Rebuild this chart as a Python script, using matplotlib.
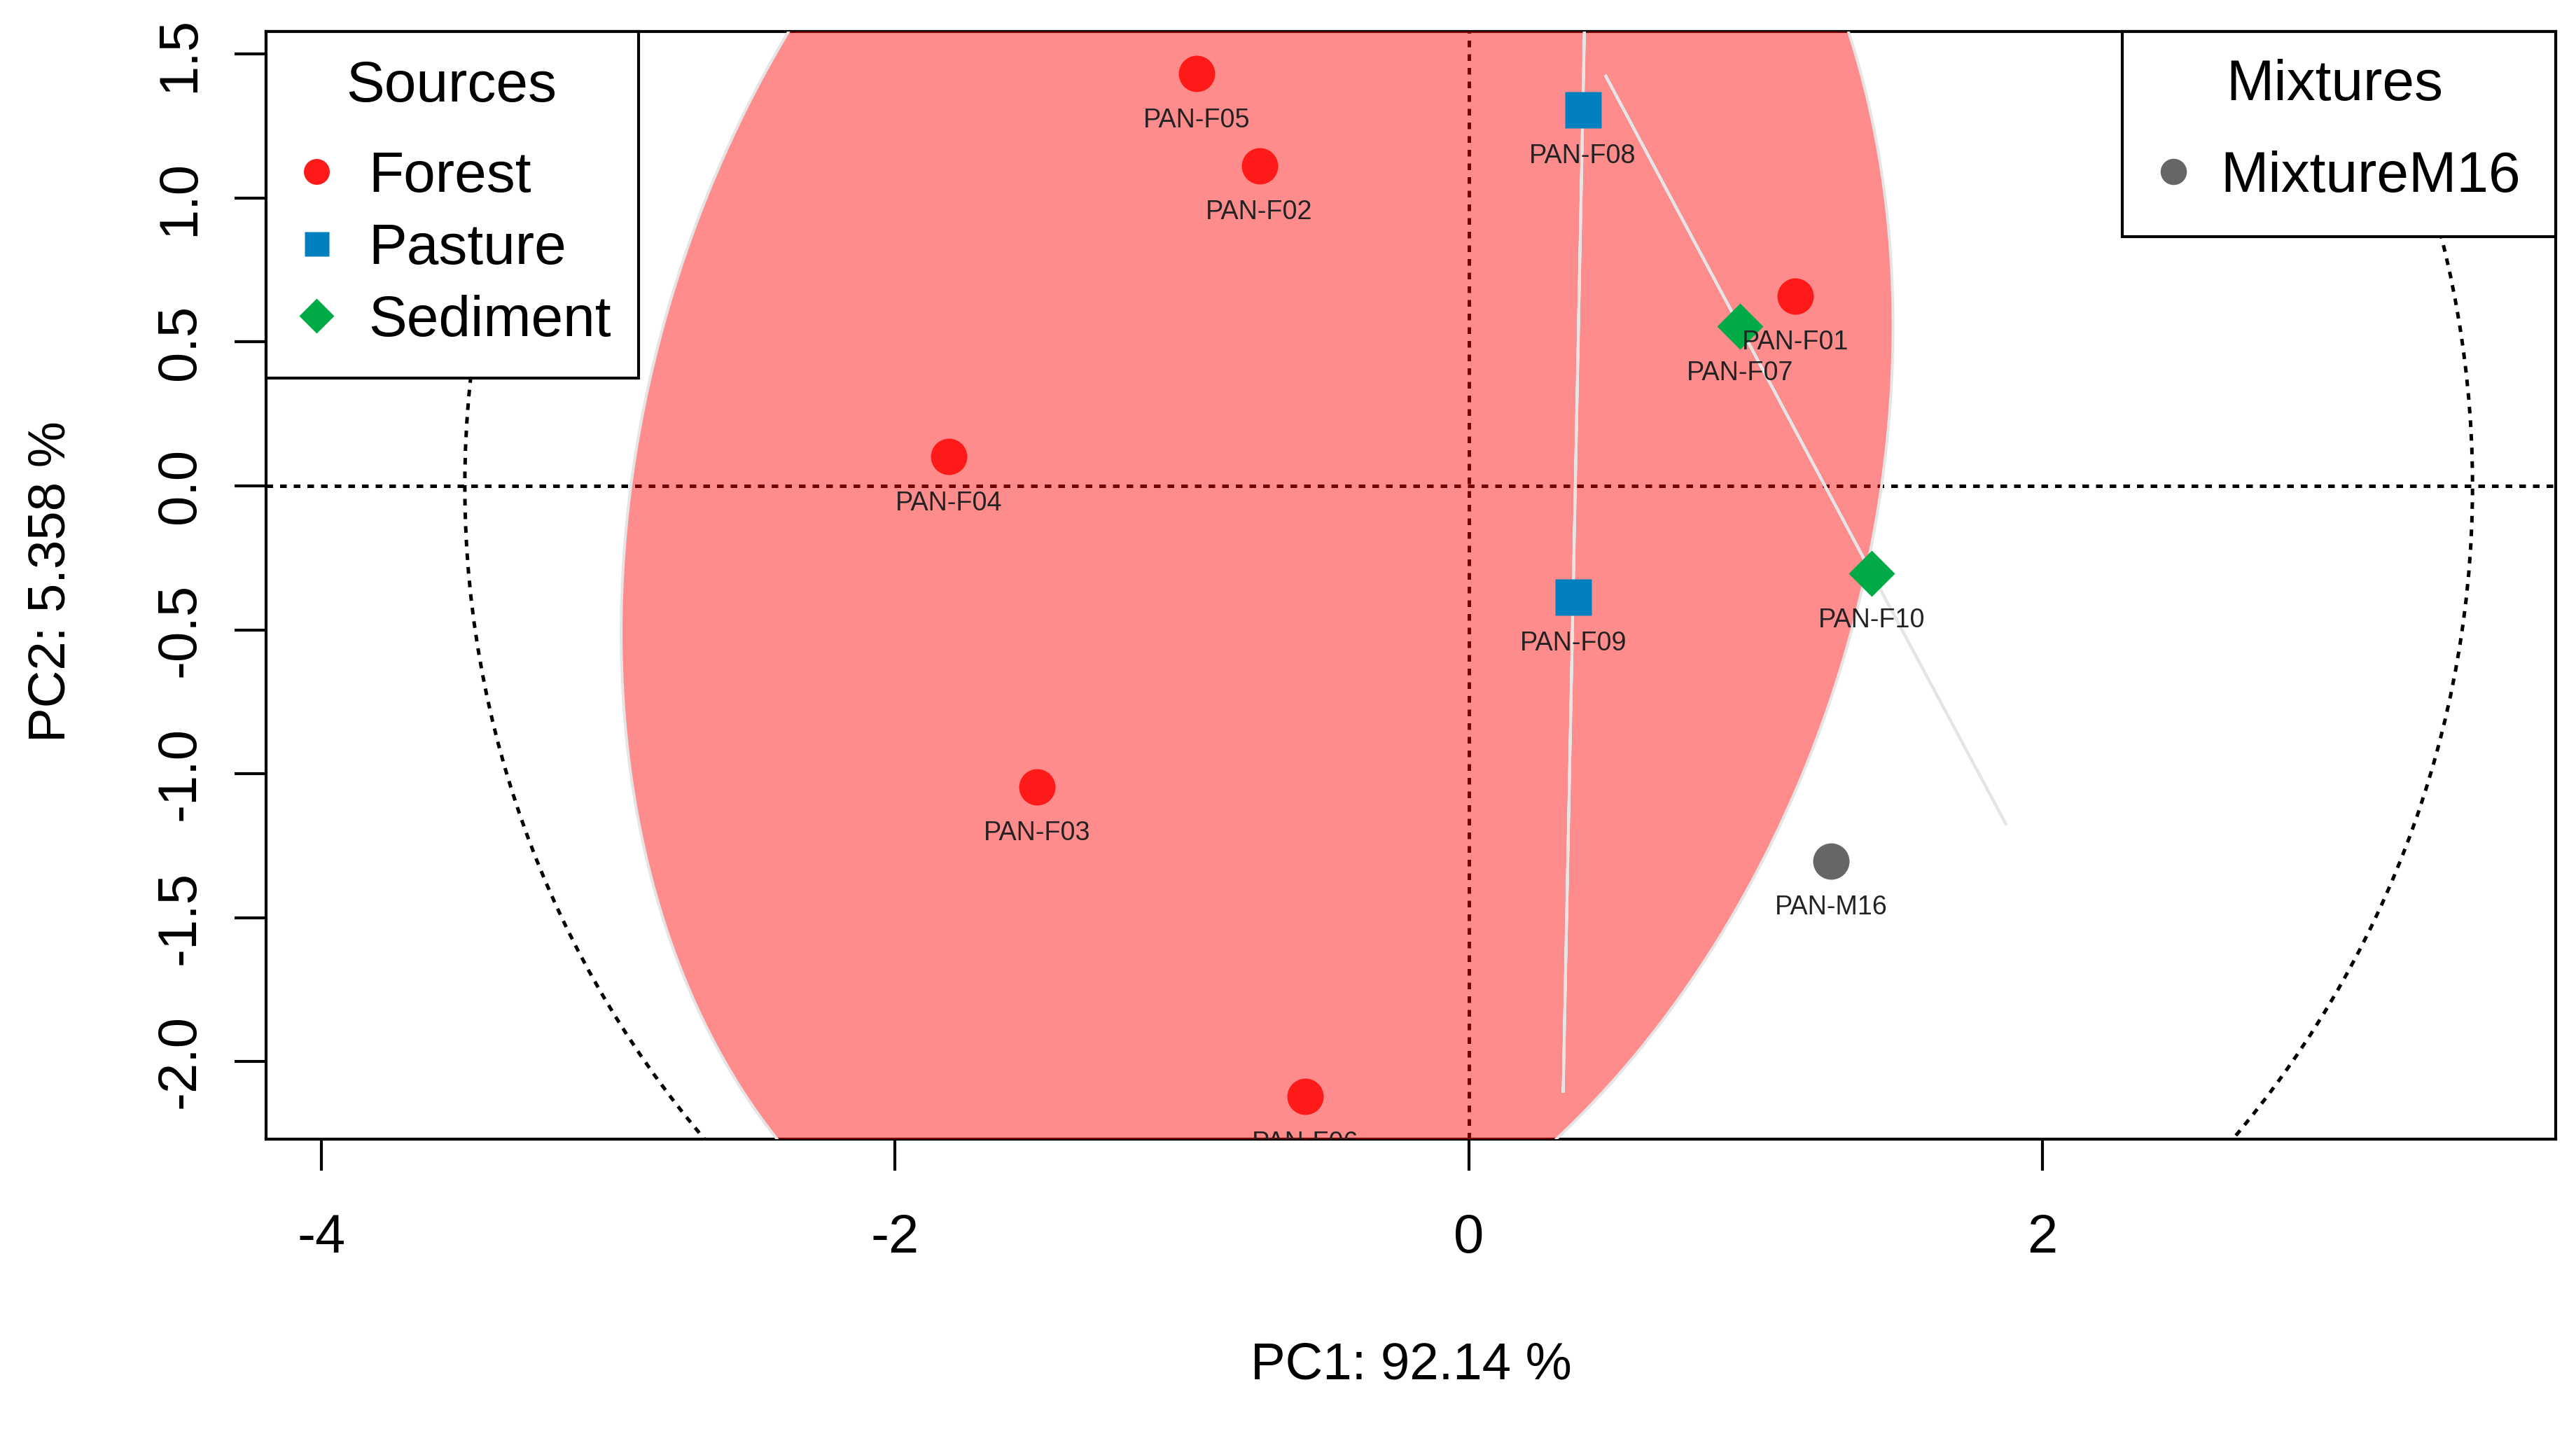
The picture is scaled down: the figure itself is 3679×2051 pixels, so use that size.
import numpy as np
import matplotlib
matplotlib.use("Agg")
import matplotlib.pyplot as plt
from matplotlib.lines import Line2D
from matplotlib.patches import Rectangle, Circle

plt.rcParams['font.family'] = ['Liberation Sans', 'DejaVu Sans']
plt.rcParams['axes.unicode_minus'] = False

# ---------------- data ----------------
source_names = ["PAN-F01", "PAN-F02", "PAN-F03", "PAN-F04", "PAN-F05",
                "PAN-F06", "PAN-F07", "PAN-F08", "PAN-F09", "PAN-F10"]
source_groups = ["Forest", "Forest", "Forest", "Forest", "Forest",
                 "Forest", "Sediment", "Pasture", "Pasture", "Sediment"]
source_pc1 = [1.139, -0.730, -1.504, -1.813, -0.948, -0.570, 0.945, 0.398, 0.364, 1.406]
source_pc2 = [0.660, 1.112, -1.046, 0.101, 1.432, -2.122, 0.554, 1.307, -0.386, -0.305]

mixture_names = ["PAN-M16"]
mixture_labels = ["MixtureM16"]
mixture_pc1 = [1.263]
mixture_pc2 = [-1.304]

group_order = ["Forest", "Pasture", "Sediment"]
group_colors = {"Forest": "#FF1A1A", "Pasture": "#0080BF", "Sediment": "#00AA44"}
group_markers = {"Forest": "o", "Pasture": "s", "Sediment": "D"}
mixture_color = "#666666"

ellipse_chi2 = 4.605          # 90 % level, 2 df
circle_radius = 3.5

x_ticks = [-4, -2, 0, 2]
x_ticklabels = ["-4", "-2", "0", "2"]
y_ticks = [-2.0, -1.5, -1.0, -0.5, 0.0, 0.5, 1.0, 1.5]
y_ticklabels = ["-2.0", "-1.5", "-1.0", "-0.5", "0.0", "0.5", "1.0", "1.5"]
x_label = "PC1: 92.14 %"
y_label = "PC2: 5.358 %"

# ---------------- figure ----------------
W, H = 3680, 2051
DPI = 200
fig = plt.figure(figsize=(W / DPI, H / DPI), dpi=DPI)
ax_l, ax_r, ax_t, ax_b = 380, 3650, 45, 1627
ax = fig.add_axes([ax_l / W, (H - ax_b) / H, (ax_r - ax_l) / W, (ax_b - ax_t) / H])
ax.set_xlim(-4.193, 3.790)
ax.set_ylim(-2.270, 1.579)

FS = 28        # tick labels
FS_LAB = 26.8  # axis titles
FS_LEG = 29.5  # legend texts
LW = 1.5
dash = (0, (1.9, 2.0))

# reference lines and circle
ax.axhline(0, color="black", lw=1.8, linestyle=dash, zorder=1.5)
ax.axvline(0, color="black", lw=1.8, linestyle=dash, zorder=1.5)
ax.add_patch(Circle((0, 0), circle_radius, fill=False, edgecolor="black",
                    lw=1.8, linestyle=dash, zorder=1.5))

# ellipses
theta = np.linspace(0, 2 * np.pi, 721)
unit = np.vstack([np.cos(theta), np.sin(theta)])
px = np.array(source_pc1)
py = np.array(source_pc2)
grp = np.array(source_groups)
for g in group_order:
    m = grp == g
    pts = np.vstack([px[m], py[m]])
    mu = pts.mean(axis=1)
    cov = np.cov(pts)
    vals, vecs = np.linalg.eigh(cov)
    vals = np.clip(vals, 0, None)
    ell = mu[:, None] + np.sqrt(ellipse_chi2) * (vecs @ (np.sqrt(vals)[:, None] * unit))
    fc = (1, 0, 0, 0.45) if g == "Forest" else "none"
    ax.fill(ell[0], ell[1], facecolor=fc, edgecolor="#E5E5E5", lw=1.45, zorder=3)

# points
for g in group_order:
    m = grp == g
    ms = {"o": 18.7, "s": 18.4, "D": 16.8}[group_markers[g]]
    ax.plot(px[m], py[m], ls="none", marker=group_markers[g], ms=ms,
            mfc=group_colors[g], mec="none", zorder=4)
ax.plot(mixture_pc1, mixture_pc2, ls="none", marker="o", ms=18.7,
        mfc=mixture_color, mec="none", zorder=4)

# point labels
for name, x, y in list(zip(source_names, source_pc1, source_pc2)) + \
        list(zip(mixture_names, mixture_pc1, mixture_pc2)):
    t = ax.annotate(name, (x, y), xytext=(0, -27.5), textcoords="offset points",
                    ha="center", va="baseline", fontsize=13.6, color="#222222",
                    zorder=5, annotation_clip=False)
    t.set_clip_on(True)
    t.set_clip_box(ax.bbox)

# axes styling
for s in ax.spines.values():
    s.set_linewidth(LW)
ax.set_xticks(x_ticks)
ax.set_xticklabels(x_ticklabels)
ax.set_yticks(y_ticks)
ax.set_yticklabels(y_ticklabels)
ax.tick_params(axis="both", direction="out", length=16.3, width=LW, labelsize=FS)
ax.tick_params(axis="x", pad=21.6)
ax.tick_params(axis="y", pad=14.8)
for lab in ax.get_yticklabels():
    lab.set_rotation(90)
    lab.set_va("center")
    lab.set_ha("right")

ax.set_xlabel(x_label, fontsize=FS_LAB)
ax.xaxis.label.set_va("baseline")
ax.xaxis.set_label_coords(0.5, (ax_b - 1969) / (ax_b - ax_t))
ax.set_ylabel(y_label, fontsize=FS_LAB)
ax.yaxis.label.set_va("baseline")
ax.yaxis.set_label_coords((93 - ax_l) / (ax_r - ax_l), (ax_b - 830.5) / (ax_b - ax_t))

# ---------------- legends ----------------
def axx(p):
    return (p - ax_l) / (ax_r - ax_l)


def axy(p):
    return (ax_b - p) / (ax_b - ax_t)


leg_ms = {"o": 13.3, "s": 12.6, "D": 12.7}
src_handles = [Line2D([], [], ls="none", marker=group_markers[g], ms=leg_ms[group_markers[g]],
                      mfc=group_colors[g], mec="none") for g in group_order]
ax.add_patch(Rectangle((0, axy(540)), axx(912), 1 - axy(540), transform=ax.transAxes,
                       facecolor="white", edgecolor="black", lw=LW, zorder=6, clip_on=False))
ax.text(axx(645), axy(145), "Sources", transform=ax.transAxes, ha="center",
        va="baseline", fontsize=FS_LEG, zorder=8)
leg1 = ax.legend(src_handles, group_order, loc="upper left",
                 bbox_to_anchor=(axx(413), axy(215)), frameon=False, borderpad=0,
                 borderaxespad=0, handlelength=0.95, handletextpad=0.43,
                 labelspacing=0.33, fontsize=FS_LEG)
leg1.set_zorder(8)
ax.add_artist(leg1)

mix_handles = [Line2D([], [], ls="none", marker="o", ms=13.5, mfc=mixture_color, mec="none")]
ax.add_patch(Rectangle((axx(3031), axy(338)), 1 - axx(3031), 1 - axy(338),
                       transform=ax.transAxes, facecolor="white", edgecolor="black",
                       lw=LW, zorder=6, clip_on=False))
ax.text(axx(3334), axy(143.5), "Mixtures", transform=ax.transAxes, ha="center",
        va="baseline", fontsize=FS_LEG, zorder=8)
leg2 = ax.legend(mix_handles, mixture_labels, loc="upper left",
                 bbox_to_anchor=(axx(3065), axy(215)), frameon=False, borderpad=0,
                 borderaxespad=0, handlelength=0.95, handletextpad=0.35,
                 labelspacing=0.33, fontsize=FS_LEG)
leg2.set_zorder(8)

fig.savefig("out.png", dpi=DPI, facecolor="white")
